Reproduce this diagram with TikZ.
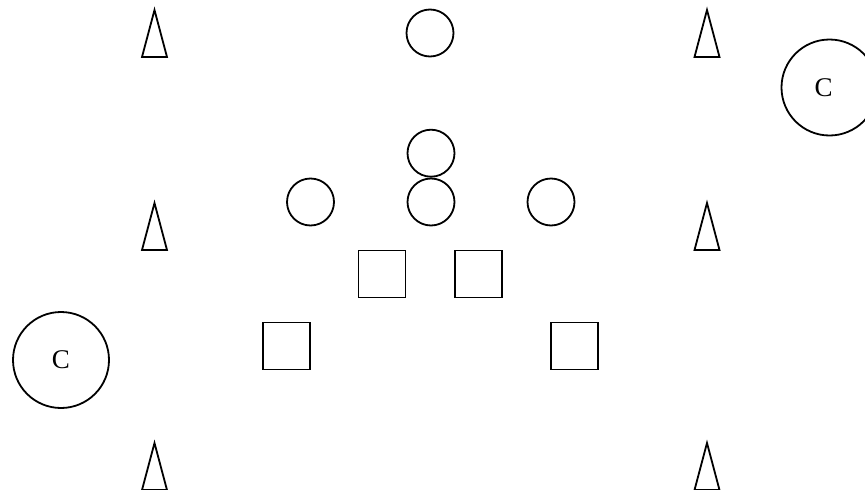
\documentclass[tikz,border=0pt]{standalone}
\usepackage{fontspec}
\setmainfont{Liberation Serif}
\usepackage{tikz}
\usetikzlibrary{positioning}

\begin{document}
\begin{tikzpicture}[
  x=1pt,y=-1pt,
  line width=1.8pt,
  player/.style={circle,draw,minimum size=47pt,inner sep=0pt},
  coach/.style={circle,draw,minimum size=96pt,inner sep=0pt,font=\fontsize{27}{30}\selectfont},
  defender/.style={rectangle,draw,minimum size=47pt,inner sep=0pt},
  cone/.style={line join=miter}
]
\clip (0,0) rectangle (865,490);
\useasboundingbox (0,0) rectangle (865,490);
% cones
\foreach \cx in {154.5,707} {
  \foreach \cy in {10,203,443} {
    \draw[cone] (\cx,\cy) -- ++(12.5,47) -- ++(-25,0) -- cycle;
  }
}
% players
\node[player] (ptop) at (430,33) {};
\node[player] (pmid) at (431,202) {};
\node[player,above=0pt of pmid] (pup) {};
\node[player] (pleft) at (310.5,202) {};
\node[player] (pright) at (551,202) {};
% defenders
\node[defender] (d1) at (382,274) {};
\node[defender] (d2) at (478.5,274) {};
\node[defender] (d3) at (286.5,346) {};
\node[defender] (d4) at (574.5,346) {};
% coaches
\node[coach,label={[font=\fontsize{27}{30}\selectfont,xshift=-6pt]center:C}] (c1) at (829.5,87.5) {};
\node[coach] (c2) at (61,360) {C};
\end{tikzpicture}
\end{document}
